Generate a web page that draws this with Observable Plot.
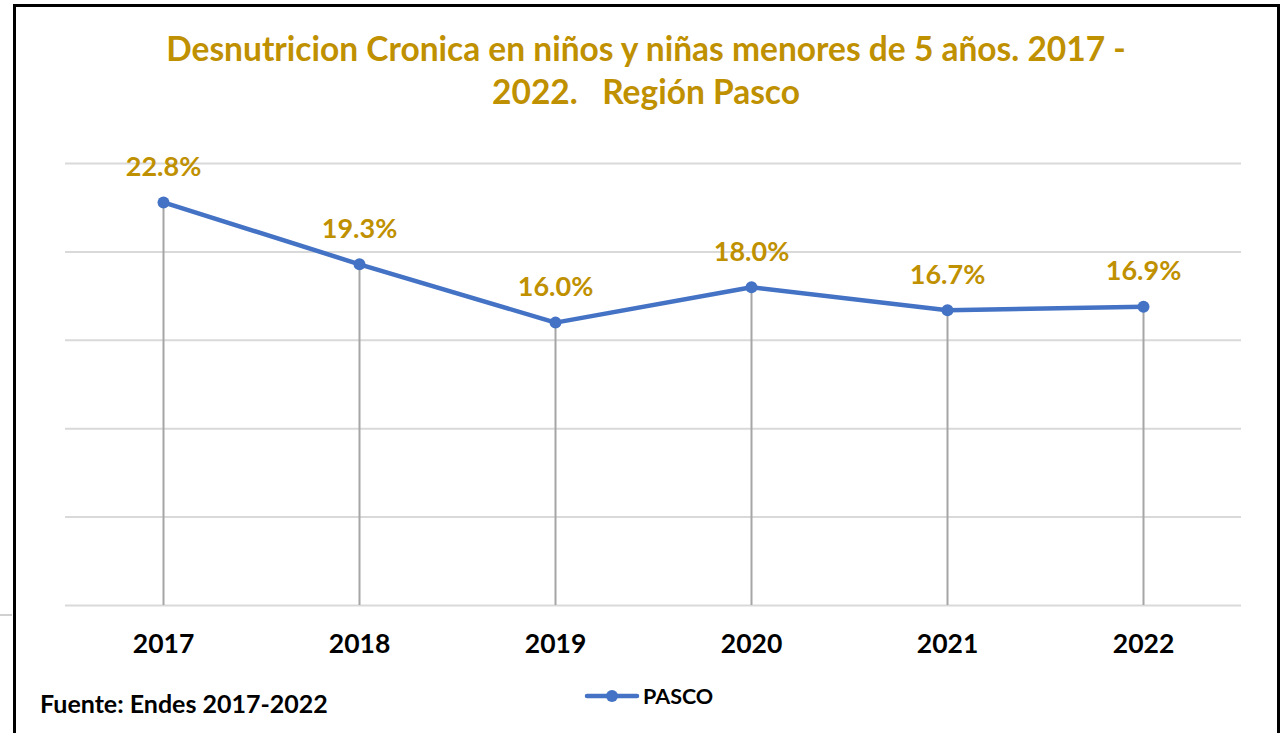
<!DOCTYPE html>
<html>
<head>
<meta charset="utf-8">
<script src="https://cdn.jsdelivr.net/npm/d3@7"></script>
<script src="https://cdn.jsdelivr.net/npm/@observablehq/plot@0.6"></script>
<style>
  html, body { margin: 0; padding: 0; background: #fff; }
  #wrap { position: relative; width: 1281px; height: 733px; overflow: hidden; font-family: Lato, "Open Sans", sans-serif; }
  #frame { position: absolute; left: 13px; top: 4px; width: 1261px; height: 760px; border: 3px solid #000; }
  #stub { position: absolute; left: 0; top: 614px; width: 12px; height: 2px; background: #d0d0d0; }
  #title { position: absolute; left: 13px; width: 1266px; top: 27px; text-align: center; color: #bf9000; font-weight: bold; font-size: 33.5px; line-height: 43px; white-space: pre; }
  #chart { position: absolute; left: 0; top: 140px; }
  #source { position: absolute; left: 40px; top: 688px; font-weight: bold; font-size: 25px; line-height: 30px; color: #000; }
  #legend { position: absolute; left: 584px; top: 683px; height: 26px; display: flex; align-items: center; font-weight: bold; font-size: 21.5px; color: #000; }
  #legend svg { margin-right: 3px; }
</style>
</head>
<body>
<div id="wrap">
  <div id="frame"></div>
  <div id="stub"></div>
  <div id="title"></div>
  <div id="chart"></div>
  <div id="source"></div>
  <div id="legend"></div>
</div>
<script>
const years = ["2017", "2018", "2019", "2020", "2021", "2022"];
const values = [22.8, 19.3, 16.0, 18.0, 16.7, 16.9];
const gridTicks = [0, 5, 10, 15, 20, 25];
const seriesName = "PASCO";
const titleLines = ["Desnutricion Cronica en niños y niñas menores de 5 años. 2017 -", "2022.   Región Pasco"];
const sourceText = "Fuente: Endes 2017-2022";

const lineColor = "#4472c4";
const labelColor = "#bf9000";

const data = years.map((year, i) => ({year, value: values[i]}));

document.getElementById("title").textContent = titleLines.join("\n");
document.getElementById("source").textContent = sourceText;

const chart = Plot.plot({
  width: 1281,
  height: 525,
  marginTop: 23,
  marginBottom: 60,
  marginLeft: 65,
  marginRight: 40,
  style: {fontFamily: "Lato, 'Open Sans', sans-serif", background: "transparent", overflow: "visible"},
  x: {type: "point", domain: years, padding: 0.5, axis: null},
  y: {domain: [0, 25], axis: null},
  marks: [
    Plot.ruleY(gridTicks, {stroke: "#d9d9d9", strokeWidth: 2}),
    Plot.ruleX(data, {x: "year", y1: 0, y2: "value", stroke: "#a6a6a6", strokeWidth: 2}),
    Plot.line(data, {x: "year", y: "value", stroke: lineColor, strokeWidth: 4.5}),
    Plot.dot(data, {x: "year", y: "value", r: 6, fill: lineColor, stroke: "none"}),
    Plot.text(data, {x: "year", y: "value", text: d => d.value.toFixed(1) + "%", dy: -35, fill: labelColor, fontSize: 27, fontWeight: "bold"}),
    Plot.axisX({tickSize: 0, tickPadding: 29, fontSize: 26.5, fontWeight: "bold", color: "#000", label: null})
  ]
});
document.getElementById("chart").appendChild(chart);

const leg = document.getElementById("legend");
const sw = d3.create("svg").attr("width", 56).attr("height", 20);
sw.append("line").attr("x1", 3).attr("x2", 53).attr("y1", 10).attr("y2", 10).attr("stroke", lineColor).attr("stroke-width", 4.5).attr("stroke-linecap", "round");
sw.append("circle").attr("cx", 28).attr("cy", 10).attr("r", 6).attr("fill", lineColor);
leg.appendChild(sw.node());
const lt = document.createElement("span");
lt.textContent = seriesName;
leg.appendChild(lt);
</script>
</body>
</html>
